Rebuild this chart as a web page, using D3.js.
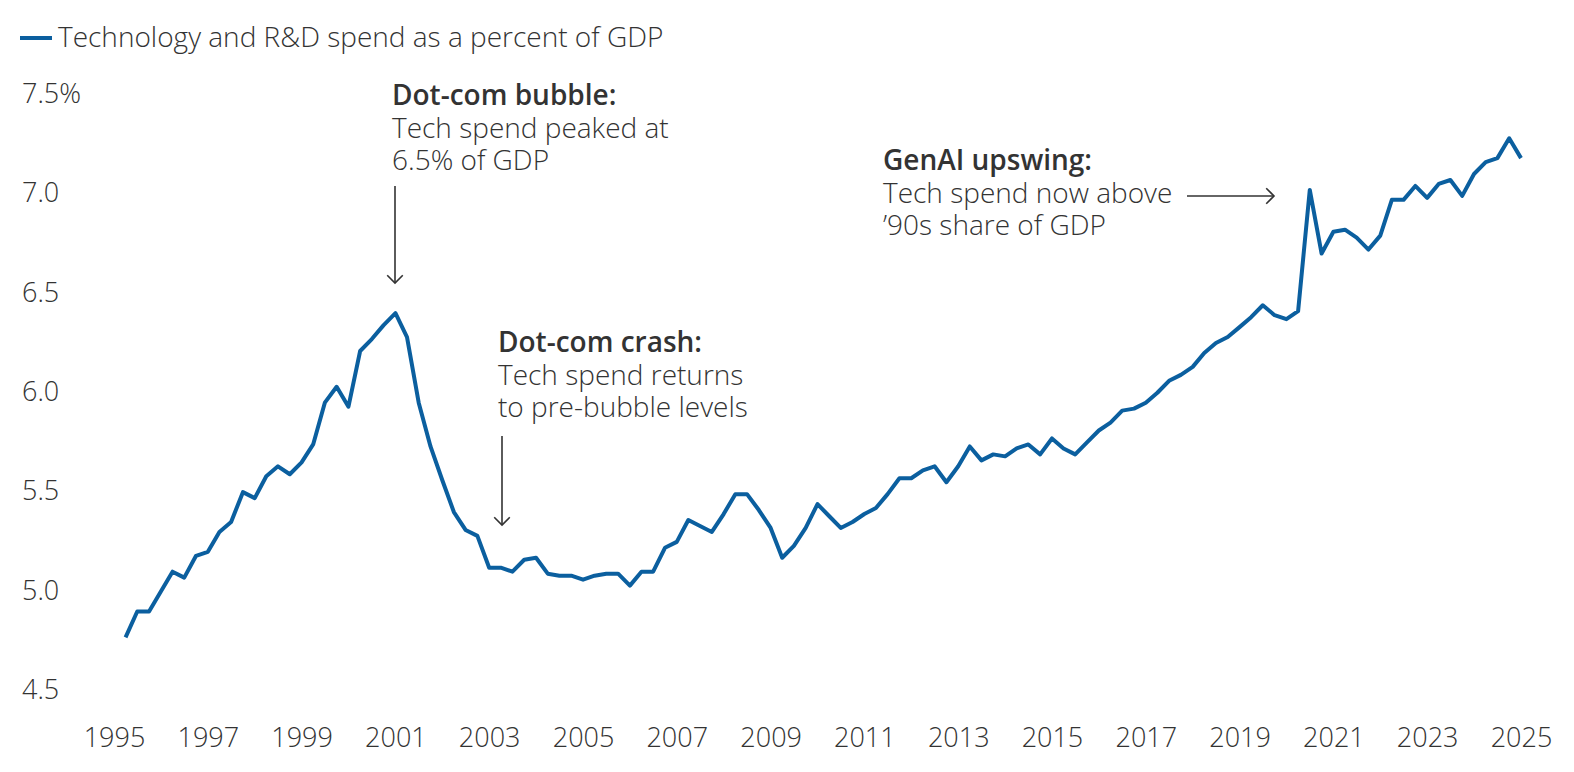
<!DOCTYPE html>
<html>
<head>
<meta charset="utf-8">
<script src="https://cdn.jsdelivr.net/npm/d3@7"></script>
<style>
  body { margin: 0; background: #fff; }
  svg { display: block; font-family: "Open Sans", Lato, sans-serif; font-weight: 300; }
  .tick text { fill: #333; font-size: 27px; font-family: "Open Sans", Lato, sans-serif; }
  .note { fill: #333; font-size: 28px; }
  .note.head { font-weight: 600; }
</style>
</head>
<body>
<div id="chart"></div>
<script>
////////////////////////////////////////////////////////////////
//////////////////////// data //////////////////////////////////
////////////////////////////////////////////////////////////////

// quarterly, Q1 1995 .. Q4 2024 (tech + R&D spend, % of GDP)
const spend1995to1999 = [
  4.76, 4.89, 4.89, 4.99, 5.09, 5.06, 5.17, 5.19, 5.29, 5.34,
  5.49, 5.46, 5.57, 5.62, 5.58, 5.64, 5.73, 5.94, 6.02, 5.92
];
const spend2000to2004 = [
  6.20, 6.26, 6.33, 6.39, 6.27, 5.94, 5.72, 5.55, 5.39, 5.30,
  5.27, 5.11, 5.11, 5.09, 5.15, 5.16, 5.08, 5.07, 5.07, 5.05
];
const spend2005to2009 = [
  5.07, 5.08, 5.08, 5.02, 5.09, 5.09, 5.21, 5.24, 5.35, 5.32,
  5.29, 5.38, 5.48, 5.48, 5.40, 5.31, 5.16, 5.22, 5.31, 5.43
];
const spend2010to2014 = [
  5.37, 5.31, 5.34, 5.38, 5.41, 5.48, 5.56, 5.56, 5.60, 5.62,
  5.54, 5.62, 5.72, 5.65, 5.68, 5.67, 5.71, 5.73, 5.68, 5.76
];
const spend2015to2019 = [
  5.71, 5.68, 5.74, 5.80, 5.84, 5.90, 5.91, 5.94, 5.99, 6.05,
  6.08, 6.12, 6.19, 6.24, 6.27, 6.32, 6.37, 6.43, 6.38, 6.36
];
const spend2020to2024 = [
  6.40, 7.01, 6.69, 6.80, 6.81, 6.77, 6.71, 6.78, 6.96, 6.96,
  7.03, 6.97, 7.04, 7.06, 6.98, 7.09, 7.15, 7.17, 7.27, 7.17
];

const yTicks = [4.5, 5.0, 5.5, 6.0, 6.5, 7.0, 7.5];
const xTickYears = [1995, 1997, 1999, 2001, 2003, 2005, 2007, 2009,
  2011, 2013, 2015, 2017, 2019, 2021, 2023, 2025];

const legendLabel = "Technology and R&D spend as a percent of GDP";

const notes = [
  { head: "Dot-com bubble:", lines: ["Tech spend peaked at", "6.5% of GDP"] },
  { head: "Dot-com crash:", lines: ["Tech spend returns", "to pre-bubble levels"] },
  { head: "GenAI upswing:", lines: ["Tech spend now above", "\u201990s share of GDP"] }
];

const spend = [].concat(spend1995to1999, spend2000to2004, spend2005to2009,
  spend2010to2014, spend2015to2019, spend2020to2024);

// each value plotted at the end of its quarter
const data = spend.map((v, i) => ({ date: new Date(1995, 3 * (i + 1), 1), value: v }));

////////////////////////////////////////////////////////////////
//////////////////////// svg ///////////////////////////////////
////////////////////////////////////////////////////////////////

const width = 1574, height = 772;
const blue = "#0b5f9f", ink = "#333";

const svg = d3.select("#chart").append("svg")
  .attr("width", width)
  .attr("height", height);

const x = d3.scaleTime()
  .domain([new Date(1995, 0, 1), new Date(2025, 0, 1)])
  .range([114, 1521]);

const y = d3.scaleLinear()
  .domain([4.5, 7.5])
  .range([689, 92.5]);

// y axis: labels only, left aligned
const yAxis = svg.append("g")
  .call(d3.axisLeft(y).tickValues(yTicks).tickSize(0)
    .tickFormat(d => d === 7.5 ? "7.5%" : d3.format(".1f")(d)))
  .attr("font-family", null);
yAxis.select(".domain").remove();
yAxis.selectAll("text")
  .attr("x", 22)
  .attr("dy", "0.36em")
  .attr("text-anchor", "start");

// x axis
const xAxis = svg.append("g")
  .attr("transform", "translate(0,722)")
  .call(d3.axisBottom(x).tickValues(xTickYears.map(yr => new Date(yr, 0, 1)))
    .tickSize(0).tickFormat(d3.timeFormat("%Y")))
  .attr("font-family", null);
xAxis.select(".domain").remove();
xAxis.selectAll("text")
  .attr("y", 6)
  .attr("dy", "0.71em");

// line
const line = d3.line()
  .x(d => x(d.date))
  .y(d => y(d.value));

svg.append("path")
  .datum(data)
  .attr("fill", "none")
  .attr("stroke", blue)
  .attr("stroke-width", 4)
  .attr("stroke-linejoin", "round")
  .attr("d", line);

// legend
svg.append("line")
  .attr("x1", 20).attr("x2", 52)
  .attr("y1", 38).attr("y2", 38)
  .attr("stroke", blue)
  .attr("stroke-width", 4);

svg.append("text")
  .attr("class", "note")
  .attr("x", 58)
  .attr("y", 47)
  .text(legendLabel);

////////////////////////////////////////////////////////////////
//////////////////////// annotations ///////////////////////////
////////////////////////////////////////////////////////////////

const notePos = [
  { x: 392, y: 105 },
  { x: 498, y: 352 },
  { x: 883, y: 170 }
];

notes.forEach((n, i) => {
  [n.head].concat(n.lines).forEach((l, j) => {
    svg.append("text")
      .attr("class", j === 0 ? "note head" : "note")
      .attr("x", notePos[i].x)
      .attr("y", notePos[i].y + j * 32.5)
      .text(l);
  });
});

function arrow(x1, y1, x2, y2) {
  const g = svg.append("g")
    .attr("stroke", ink)
    .attr("stroke-width", 1.6)
    .attr("fill", "none");
  g.append("line")
    .attr("x1", x1).attr("y1", y1)
    .attr("x2", x2).attr("y2", y2);
  const a = Math.atan2(y2 - y1, x2 - x1);
  const s = 11;
  const p = [
    [x2 - s * Math.cos(a - Math.PI / 4), y2 - s * Math.sin(a - Math.PI / 4)],
    [x2, y2],
    [x2 - s * Math.cos(a + Math.PI / 4), y2 - s * Math.sin(a + Math.PI / 4)]
  ];
  g.append("path").attr("d", d3.line()(p));
}

arrow(395, 186, 395, 283);
arrow(502, 436, 502, 525);
arrow(1187, 196, 1274, 196);
</script>
</body>
</html>
